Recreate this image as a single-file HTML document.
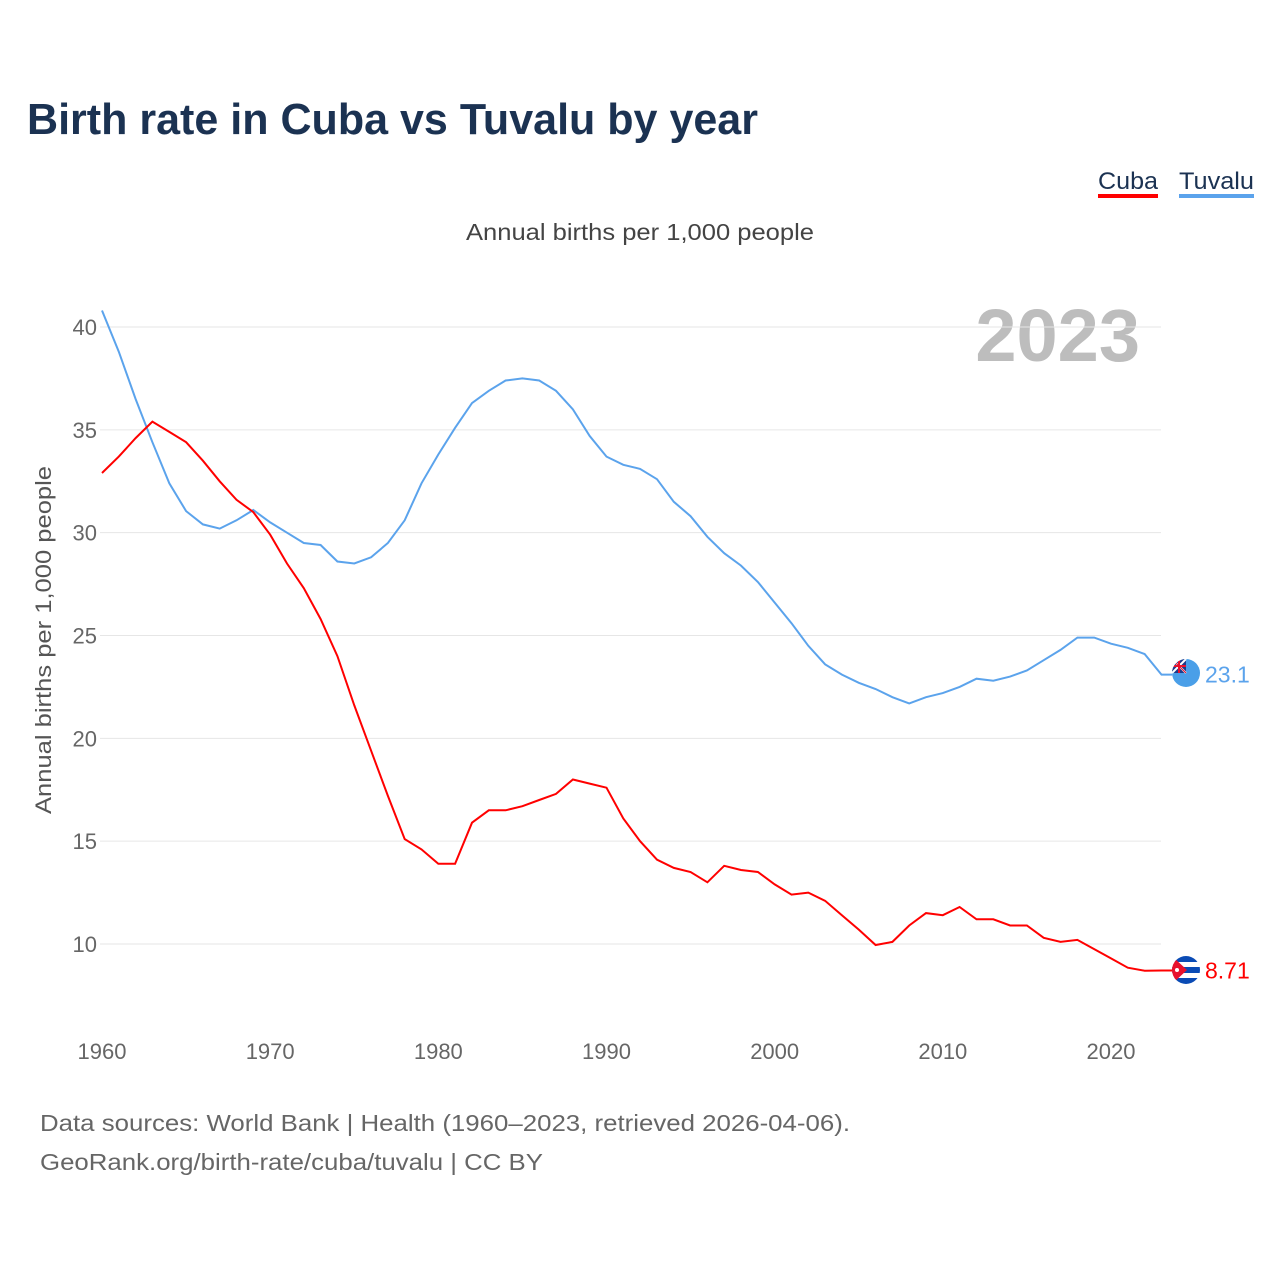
<!DOCTYPE html>
<html><head><meta charset="utf-8"><style>
body{margin:0;background:#fff;font-family:"Liberation Sans",sans-serif}
svg text{font-family:"Liberation Sans",sans-serif}
</style></head><body>
<svg id="chart" width="1280" height="1280" xmlns="http://www.w3.org/2000/svg">
<defs><clipPath id="cf"><circle cx="1186" cy="970" r="14"/></clipPath><clipPath id="tf"><circle cx="1186" cy="673" r="14"/></clipPath></defs>
<text x="27" y="134" font-size="44" font-weight="bold" fill="#1b3252" textLength="731" lengthAdjust="spacingAndGlyphs">Birth rate in Cuba vs Tuvalu by year</text>
<g>
<text x="1098" y="189" font-size="24" fill="#1b3252" textLength="60" lengthAdjust="spacingAndGlyphs">Cuba</text>
<rect x="1098" y="194" width="60" height="4" fill="#ff0000"/>
<text x="1179" y="189" font-size="24" fill="#1b3252" textLength="75" lengthAdjust="spacingAndGlyphs">Tuvalu</text>
<rect x="1179" y="194" width="75" height="4" fill="#5ba3ec"/>
</g>
<text x="466" y="240" font-size="23" fill="#444" textLength="348" lengthAdjust="spacingAndGlyphs">Annual births per 1,000 people</text>
<text x="1140" y="361" font-size="74" font-weight="bold" fill="#bdbdbd" text-anchor="end">2023</text>
<text transform="translate(51,814) rotate(-90)" font-size="22" fill="#555" textLength="348" lengthAdjust="spacingAndGlyphs">Annual births per 1,000 people</text>
<g id="grid"></g><g id="lines"></g>
<g clip-path="url(#cf)">
<rect x="1172" y="956" width="28" height="28" fill="#fff"/>
<rect x="1172" y="956" width="28" height="6" fill="#0a4bb5"/><rect x="1172" y="967" width="28" height="6" fill="#0a4bb5"/><rect x="1172" y="978" width="28" height="6" fill="#0a4bb5"/>
<polygon points="1172,956 1187,970 1172,984" fill="#e8112d"/><circle cx="1177" cy="970" r="2" fill="#fff"/>
</g>
<g clip-path="url(#tf)">
<rect x="1172" y="659" width="28" height="28" fill="#4a9fe8"/>
<rect x="1172" y="659" width="14" height="14" fill="#1e3a8a"/>
<path d="M1172 659L1186 673M1186 659L1172 673" stroke="#fff" stroke-width="2"/><path d="M1172 659L1186 673" stroke="#e8112d" stroke-width="1"/>
<path d="M1172 666h14M1179 659v14" stroke="#e8112d" stroke-width="2"/>
</g>
<text x="40" y="1131" font-size="23" fill="#666" textLength="810" lengthAdjust="spacingAndGlyphs">Data sources: World Bank | Health (1960–2023, retrieved 2026-04-06).</text>
<text x="40" y="1170" font-size="23" fill="#666" textLength="503" lengthAdjust="spacingAndGlyphs">GeoRank.org/birth-rate/cuba/tuvalu | CC BY</text>
</svg>
<script>
const years=[];for(let y=1960;y<=2023;y++)years.push(y);
const yTicks=[10,15,20,25,30,35,40];
const xTicks=[1960,1970,1980,1990,2000,2010,2020];
const tuvalu=[40.8,38.8,36.5,34.4,32.4,31.05,30.4,30.2,30.6,31.1,30.5,30.0,29.5,29.4,28.6,28.5,28.8,29.5,30.6,32.4,33.8,35.1,36.3,36.9,37.4,37.5,37.4,36.9,36.0,34.7,33.7,33.3,33.1,32.6,31.5,30.8,29.8,29.0,28.4,27.6,26.6,25.6,24.5,23.6,23.1,22.7,22.4,22.0,21.7,22.0,22.2,22.5,22.9,22.8,23.0,23.3,23.8,24.3,24.9,24.9,24.6,24.4,24.1,23.1];
const cuba=[32.9,33.7,34.6,35.4,34.9,34.4,33.5,32.5,31.6,31.0,29.9,28.5,27.3,25.8,24.0,21.6,19.4,17.2,15.1,14.6,13.9,13.9,15.9,16.5,16.5,16.7,17.0,17.3,18.0,17.8,17.6,16.1,15.0,14.1,13.7,13.5,13.0,13.8,13.6,13.5,12.9,12.4,12.5,12.1,11.4,10.7,9.95,10.1,10.9,11.5,11.4,11.8,11.2,11.2,10.9,10.9,10.3,10.1,10.2,9.75,9.3,8.85,8.7,8.71];
const X=y=>102+(y-1960)*(1009/60);
const Y=v=>944-(v-10)*(617/30);
const NS="http://www.w3.org/2000/svg";
const grid=document.getElementById('grid'),lines=document.getElementById('lines');
function mk(tag,attrs,parent){const e=document.createElementNS(NS,tag);for(const k in attrs)e.setAttribute(k,attrs[k]);parent.appendChild(e);return e;}
yTicks.forEach(t=>{
 const l=mk('line',{x1:100,x2:1161,y1:Y(t),y2:Y(t),stroke:'#e6e6e6','stroke-width':1},grid);
 
 
 const tx=mk('text',{x:97,y:Y(t)+8,'font-size':22,fill:'#666','text-anchor':'end'},grid);tx.textContent=t;
 
 
});
xTicks.forEach(t=>{
 const tx=mk('text',{x:X(t),y:1059,'font-size':22,fill:'#666','text-anchor':'middle'},grid);tx.textContent=t;
 
 
});
function series(data,color,name,label){
 const d=data.map((v,i)=>(i?'L':'M')+X(years[i]).toFixed(1)+','+Y(v).toFixed(1)).join('')+'L1172,'+Y(data[data.length-1]).toFixed(1);
 const p=mk('path',{d:d,fill:'none',stroke:color,'stroke-width':2},lines);
 
 
 const last=data[data.length-1];
 const t=mk('text',{x:1205,y:Y(last)+8,'font-size':23,fill:color},lines);t.textContent=label;
 
 
}
series(tuvalu,'#5ba3ec','tuvalu','23.1');
series(cuba,'#ff0000','cuba','8.71');
</script>
</body></html>
